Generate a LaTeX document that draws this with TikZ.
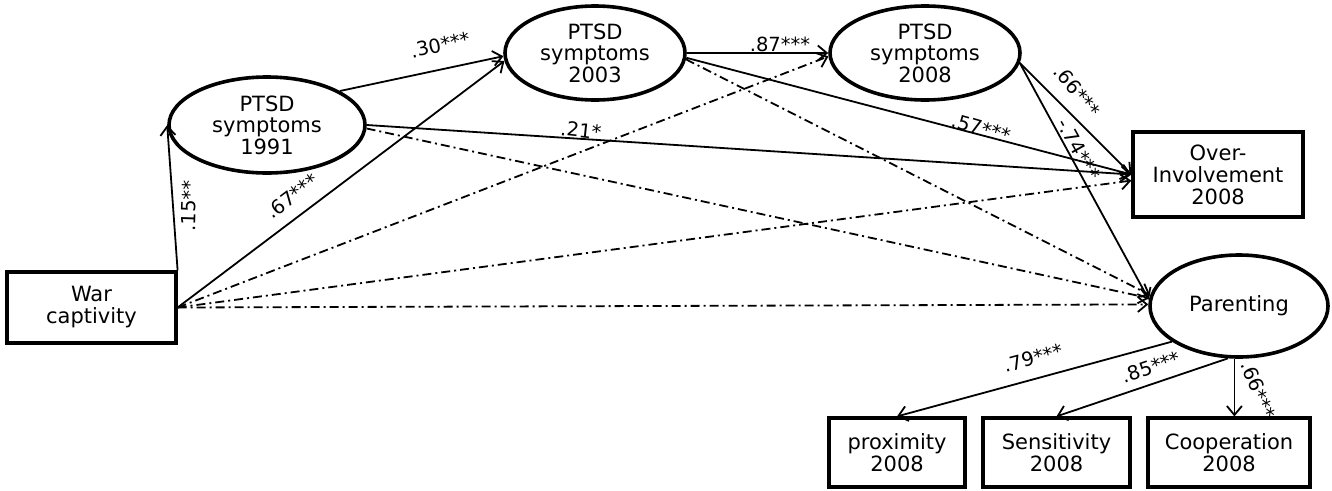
\documentclass[tikz,border=0pt]{standalone}
\usepackage{fontspec}
\setmainfont{DejaVu Sans}
\usetikzlibrary{shapes.geometric,arrows.meta}
\begin{document}
\begin{tikzpicture}[x=1pt,y=-1pt,
  ell/.style={ellipse,draw,line width=3.6pt,inner sep=0pt,align=center,font=\fontsize{21}{21.5}\selectfont},
  box/.style={rectangle,draw,line width=3.2pt,inner sep=0pt,align=center,font=\fontsize{21}{22}\selectfont},
  arr/.style={line width=1.8pt,-{Straight Barb[length=9pt,width=15pt,line width=1.8pt]}},
  darr/.style={arr,dash pattern=on 9pt off 4pt on 2pt off 4pt},
  lab/.style={font=\fontsize{19.5}{19.5}\selectfont,inner sep=0pt}]
\useasboundingbox (0,0) rectangle (1332,490);
% nodes
\node[box,minimum width=169pt,minimum height=71pt] (war) at (91.5,307.5) {War\\captivity};
\node[ell,minimum width=196pt,minimum height=96pt] (p91) at (267,125) {PTSD\\symptoms\\1991};
\node[ell,minimum width=180pt,minimum height=94pt] (p03) at (595,53) {PTSD\\symptoms\\2003};
\node[ell,minimum width=190pt,minimum height=94pt] (p08) at (925,53) {PTSD\\symptoms\\2008};
\node[box,minimum width=170pt,minimum height=85pt] (over) at (1218,174.5) {Over-\\Involvement\\2008};
\node[ell,minimum width=178pt,minimum height=102pt] (par) at (1239,306) {Parenting};
\node[box,minimum width=136pt,minimum height=69pt] (prox) at (897,452.5) {proximity\\2008};
\node[box,minimum width=147pt,minimum height=69pt] (sens) at (1056.5,452.5) {Sensitivity\\2008};
\node[box,minimum width=162pt,minimum height=69pt] (coop) at (1229,452.5) {Cooperation\\2008};
% dash-dot paths
\draw[darr] (p91.-2) -- (par.175);
\draw[darr] (p03.-4) -- (par.173);
\draw[darr] (war.east) -- (p08.182);
\draw[darr] (war.east) -- (over.184);
\draw[darr] (war.east) -- (par.179);
% solid paths
\draw[arr] (war.north east) -- (p91.west);
\draw[arr] (war.east) -- (p03.185);
\draw[arr] (p91.25) -- (p03.182);
\draw[arr] (p03.east) -- (p08.west);
\draw[arr] (p91.east) -- (over.west);
\draw[arr] (p03.-3) -- (over.west);
\draw[arr] (p08.-6) -- (over.west);
\draw[arr] (p08.-6) -- (par.176);
\draw[arr] (par.208) -- (prox.north);
\draw[arr] (par.258) -- (sens.north);
\draw[arr] (par.265) -- (par.265 |- coop.north);
% labels
\node[lab,rotate=88] (l15) at (189,206) {.15**};
\node[lab,rotate=37] (l67) at (292,196) {.67***};
\node[lab,rotate=12] (l30) at (440,45) {.30***};
\node[lab] (l87) at (780,44) {.87***};
\node[lab,rotate=-6] (l21) at (581,130) {.21*};
\node[lab,rotate=-16] (l57) at (981,128) {.57***};
\node[lab,rotate=-51] (l66a) at (1077,91) {.66***};
\node[lab,rotate=-61] (l74) at (1079,149) {-.74***};
\node[lab,rotate=15] (l79) at (1033,358) {.79***};
\node[lab,rotate=19] (l85) at (1151,367) {.85***};
\node[lab,rotate=-68] (l66b) at (1258,390) {.66***};
\end{tikzpicture}
\end{document}
